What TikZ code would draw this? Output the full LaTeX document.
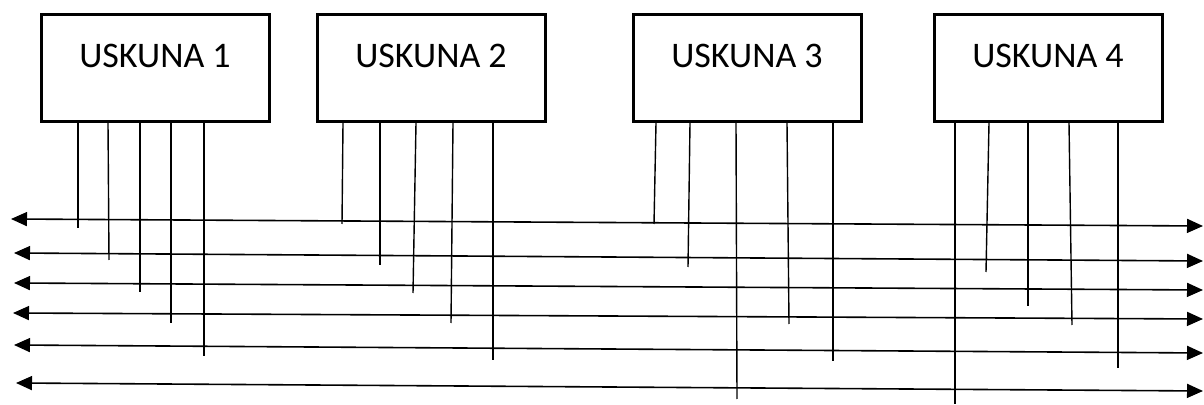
\documentclass[tikz,border=0pt]{standalone}
\usepackage{fontspec}
\setmainfont{Carlito}
\usetikzlibrary{arrows.meta}

\begin{document}
\begin{tikzpicture}[x=0.5pt,y=-0.5pt,
  unit/.style={draw=black,line width=1.5pt,minimum width=114pt,minimum height=53.5pt,inner sep=0pt},
  unitname/.style={font=\fontsize{18}{20}\selectfont,anchor=base,inner sep=0pt},
  tap/.style={draw=black,line width=0.7pt},
  bus/.style={draw=black,line width=0.8pt,{Triangle[length=8pt,width=7pt]}-{Triangle[length=8pt,width=7pt]}}]
\useasboundingbox (0,0) rectangle (1204,405);

% equipment blocks
\foreach \i/\cx in {1/155,2/431,3/747,4/1048}{
  \node[unit] (u\i) at (\cx,68) {};
  \node[unitname] (t\i) at (\cx,68) {USKUNA \i};
}

% bus lines (left tip, right tip)
\foreach \k/\xl/\yl/\yr in {1/11/219/226,2/14/253/261,3/14/283/290,4/13/313/319,5/14/345/353,6/16/383/391}{
  \coordinate (bl\k) at (\xl,\yl);
  \coordinate (br\k) at (1203,\yr);
  \draw[bus] (bl\k) -- (br\k);
}

% taps from the bottom edge of each block down across the buses
\foreach \i/\list in {
  1/{78/78/228,108/109/260,140/140/292,171/171/323,204/204/356},
  2/{343/342/224,380/380/265,416/413/293,453/451/323,493/493/360},
  3/{656/654/224,690/688/267,736/737/399,787/789/324,833/833/361},
  4/{955/955/404,989/986/272,1028/1028/306,1069/1072/325,1118/1118/368}}{
  \foreach \xt/\xb/\yb [count=\j] in \list{
    \coordinate (s\i\j) at (\xt,0 |- u\i.south);
    \coordinate (e\i\j) at (\xb,\yb);
    \draw[tap] (s\i\j) -- (e\i\j);
  }
}
\end{tikzpicture}
\end{document}
